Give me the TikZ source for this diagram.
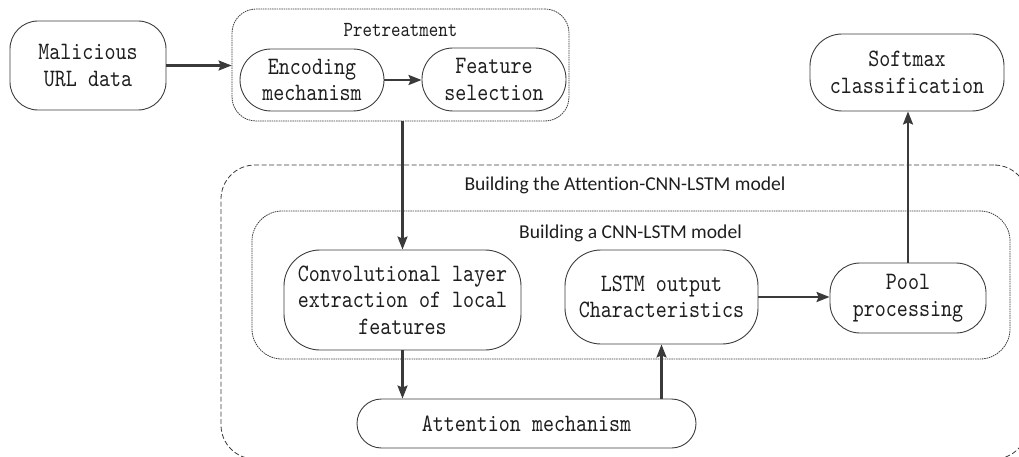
\documentclass[tikz,border=0pt]{standalone}
\usepackage{fontspec}
\setsansfont{Carlito}[Ligatures={NoCommon}]
\newfontfamily\monof{lmmono10-regular}[Extension=.otf, FakeStretch=0.84]
\usetikzlibrary{arrows.meta}
\definecolor{linec}{HTML}{3C3C3C}
\definecolor{arrc}{HTML}{3A3A3A}
\definecolor{txt}{HTML}{1E1E1E}
\begin{document}
\begin{tikzpicture}[x=1pt,y=-1pt,
  box/.style={draw=linec, line width=0.9pt, rounded corners=#1, inner sep=0pt,
    align=center, text=txt, font=\monof\fontsize{25}{26.5}\selectfont},
  box/.default=25pt,
  frame/.style={draw=linec, line width=0.8pt, rounded corners=#1, inner sep=0pt},
  frame/.default=25pt,
  flow/.style={draw=arrc, line width=2.2pt, -{Stealth[length=13pt,width=10pt,inset=2pt]}},
  grouplabel/.style={inner sep=0pt, text=txt, font=\sffamily\fontsize{19.6}{22}\selectfont},
  prelabel/.style={inner sep=0pt, text=txt, font=\monof\fontsize{21.5}{22}\selectfont}
]
\useasboundingbox (0,0) rectangle (1019,457);

% group frames
\node[frame=34pt, dash pattern=on 5pt off 2.5pt, minimum width=807pt, minimum height=294pt] (outer) at (624.5,312) {};
\node[frame=30pt, dash pattern=on 1.5pt off 0.8pt, minimum width=758pt, minimum height=148pt] (inner) at (631,285) {};
\node[frame=24pt, dash pattern=on 1.5pt off 0.8pt, minimum width=337pt, minimum height=112pt] (pre) at (400.5,65) {};

% group labels
\node[prelabel, anchor=base] (prel) at (400.5,37) {Pretreatment};
\node[grouplabel, anchor=base] (outl) at (625,190) {Building the Attention-CNN-LSTM model};
\node[grouplabel, anchor=base] (inl) at (630.5,238) {Building a CNN-LSTM model};

% boxes
\node[box=28pt, minimum width=156pt, minimum height=89pt] (mal) at (88,65.5) {Malicious\\URL data};
\node[box=31pt, minimum width=144pt, minimum height=62pt] (enc) at (312,80) {Encoding\\mechanism};
\node[box=31pt, minimum width=144pt, minimum height=63pt] (feat) at (494,79.5) {Feature\\selection};
\node[box=32pt, minimum width=194pt, minimum height=77pt] (soft) at (907,72.5) {Softmax\\classification};
\node[box=36pt, minimum width=237pt, minimum height=100pt] (conv) at (402.5,300) {Convolutional layer\\extraction of local\\features};
\node[box=36pt, minimum width=193pt, minimum height=94pt] (lstm) at (661.5,297) {LSTM output\\Characteristics};
\node[box=30pt, minimum width=156pt, minimum height=70pt] (pool) at (908,298) {Pool\\processing};
\node[box=24.5pt, minimum width=339pt, minimum height=49pt] (att) at (526.5,423.5) {Attention mechanism};

% connectors
\draw[flow] (mal.east) -- (mal.east -| pre.west);
\draw[flow] (enc.east) -- (enc.east -| feat.west);
\draw[flow] (pre.south -| conv.north) -- (conv.north);
\draw[flow] (conv.south) -- (conv.south |- att.north);
\draw[flow] (lstm.south |- att.north) -- (lstm.south);
\draw[flow] (lstm.east) -- (lstm.east -| pool.west);
\draw[flow] (pool.north) -- (pool.north |- soft.south);
\end{tikzpicture}
\end{document}
